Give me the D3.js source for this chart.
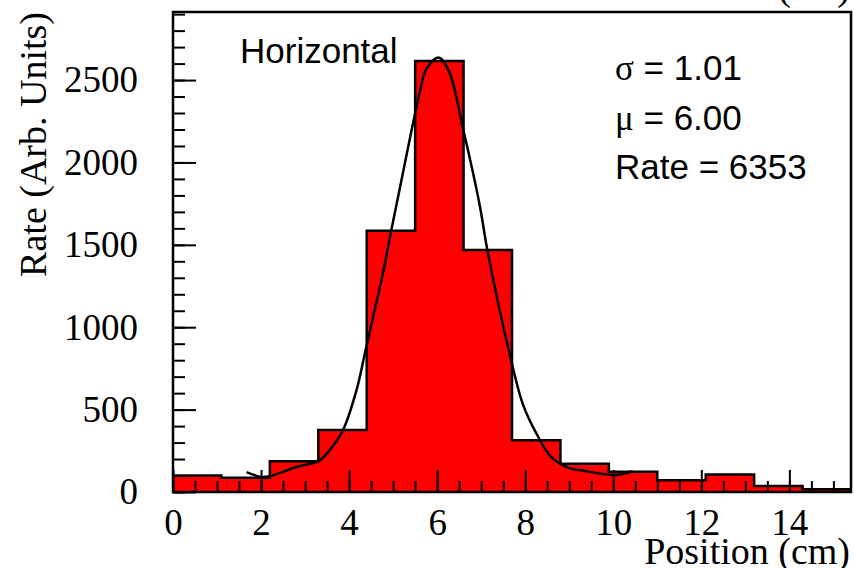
<!DOCTYPE html>
<html>
<head>
<meta charset="utf-8">
<script src="https://cdn.jsdelivr.net/npm/d3@7"></script>
<style>
  html, body { margin: 0; padding: 0; background: #fff; }
  svg { display: block; }
</style>
</head>
<body>
<svg id="chart" width="854" height="568"></svg>
<script>
// ---- data ----
const binEdgesStart = 0;
const binWidth = 1.1;
const binValues = [100, 87, 186, 377, 1585, 2615, 1468, 314, 172, 123, 71, 106, 36, 16];
const fitX = [1.67, 2.01, 2.2, 2.8, 3.32, 3.56, 3.86, 4.17, 4.39, 4.77, 4.96, 5.15, 5.60, 5.75, 6.04, 6.28, 6.58, 6.96, 7.15, 7.68, 7.95, 8.25, 8.59, 9.0, 9.31, 9.76, 10.06, 10.44];
const fitY = [121, 91, 96, 152, 190, 255, 375, 620, 880, 1330, 1590, 1840, 2420, 2565, 2636, 2545, 2215, 1750, 1455, 800, 530, 357, 213, 145, 130, 109, 103, 126];
const xMajorTicks = [0, 2, 4, 6, 8, 10, 12, 14];
const yMajorTicks = [0, 500, 1000, 1500, 2000, 2500];
const statLines = [["σ", " = 1.01"], ["μ", " = 6.00"], ["", "Rate = 6353"]];
const panelLabel = "Horizontal";
const xTitle = "Position (cm)";
const yTitle = "Rate (Arb. Units)";

// ---- layout ----
const svg = d3.select("#chart");
const L = 173, R = 851, T = 12, B = 492;
const x = d3.scaleLinear().domain([0, 15.4]).range([L, R]);
const y = d3.scaleLinear().domain([0, 2913]).range([B, T]);

const serif = "'Liberation Serif', 'Times New Roman', serif";
const sans = "'Liberation Sans', Arial, Helvetica, sans-serif";

const bins = binValues.map((v, i) => ({x0: binEdgesStart + i * binWidth, x1: binEdgesStart + (i + 1) * binWidth, v}));
const stepPts = bins.map(d => [d.x0, d.v]).concat([[bins[bins.length - 1].x1, bins[bins.length - 1].v]]);

// fill (single step area, no seams)
svg.append("path")
  .attr("d", d3.area().x(d => x(d[0])).y0(y(0)).y1(d => y(d[1])).curve(d3.curveStepAfter)(stepPts))
  .attr("fill", "#ff0000");

// outline (step)
svg.append("path")
  .attr("d", d3.line().x(d => x(d[0])).y(d => y(d[1])).curve(d3.curveStepAfter)(stepPts))
  .attr("fill", "none").attr("stroke", "#000").attr("stroke-width", 2.5);

// fit curve
const fitPts = fitX.map((v, i) => [v, fitY[i]]);
svg.append("path")
  .attr("d", d3.line().x(d => x(d[0])).y(d => y(d[1])).curve(d3.curveCatmullRom.alpha(0.5))(fitPts))
  .attr("fill", "none").attr("stroke", "#000").attr("stroke-width", 2.5);

// axes
function styleAxis(g) {
  g.select(".domain").remove();
  g.selectAll(".tick line").attr("stroke", "#000").attr("stroke-width", 2);
  g.selectAll("text").attr("font-family", serif).attr("font-size", 37).attr("fill", "#000");
}
svg.append("g").attr("transform", `translate(0,${B})`)
  .call(d3.axisBottom(x).tickValues(d3.range(0, 15.01, 0.5)).tickSize(-11).tickFormat(""))
  .call(styleAxis);
svg.append("g").attr("transform", `translate(0,${B})`)
  .call(d3.axisBottom(x).tickValues(xMajorTicks).tickSize(-22).tickPadding(17).tickFormat(d3.format("d")))
  .call(styleAxis);
svg.append("g").attr("transform", `translate(${L},0)`)
  .call(d3.axisLeft(y).tickValues(d3.range(0, 2901, 100)).tickSize(-12).tickFormat(""))
  .call(styleAxis);
svg.append("g").attr("transform", `translate(${L},0)`)
  .call(d3.axisLeft(y).tickValues(yMajorTicks).tickSize(-23).tickPadding(35).tickFormat(d3.format("d")))
  .call(styleAxis);

// frame
svg.append("rect").attr("x", L).attr("y", T).attr("width", R - L).attr("height", B - T)
  .attr("fill", "none").attr("stroke", "#000").attr("stroke-width", 2.5);

// titles
svg.append("text").attr("x", 850).attr("y", 564).attr("text-anchor", "end")
  .attr("font-family", serif).attr("font-size", 38).text(xTitle);
svg.append("text").attr("x", 850).attr("y", 0).attr("text-anchor", "end")
  .attr("font-family", serif).attr("font-size", 38).text(xTitle);
svg.append("text").attr("transform", "translate(46,12) rotate(-90)").attr("text-anchor", "end")
  .attr("font-family", serif).attr("font-size", 38).text(yTitle);

svg.append("text").attr("x", 240).attr("y", 63)
  .attr("font-family", sans).attr("font-size", 35).text(panelLabel);

const st = svg.append("g");
statLines.forEach((ln, i) => {
  const t = st.append("text").attr("x", 615).attr("y", 80 + i * 49.6)
    .attr("font-family", sans).attr("font-size", 35).attr("fill", "#000");
  if (ln[0]) t.append("tspan").attr("font-family", serif).text(ln[0]);
  t.append("tspan").text(ln[1]);
});
</script>
</body>
</html>
